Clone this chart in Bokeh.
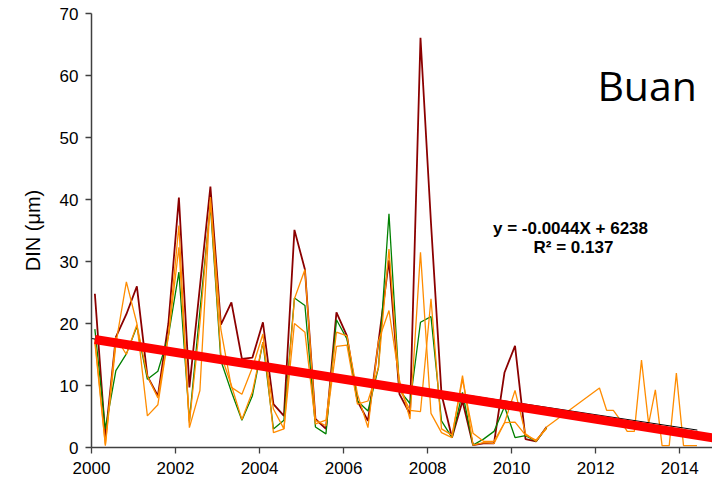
from bokeh.plotting import figure
from bokeh.models import Range1d, FixedTicker, Label
from bokeh.embed import file_html
from bokeh.resources import INLINE

# quarterly sampling times (decimal years)
t_q = [2000.08, 2000.33, 2000.58, 2000.83, 2001.08, 2001.33, 2001.58, 2001.83,
       2002.08, 2002.33, 2002.58, 2002.83, 2003.08, 2003.33, 2003.58, 2003.83,
       2004.08, 2004.33, 2004.58, 2004.83, 2005.08, 2005.33, 2005.58, 2005.83,
       2006.08, 2006.33, 2006.58, 2006.83, 2007.08, 2007.33, 2007.58, 2007.83,
       2008.08, 2008.33, 2008.58, 2008.83, 2009.08, 2009.33, 2009.58, 2009.83,
       2010.08, 2010.33, 2010.58, 2010.83]

din_maroon = [24.8, 1.6, 17.8, 21.5, 26.0, 11.5, 8.3, 20.0,
              40.3, 9.7, 25.9, 42.1, 19.8, 23.4, 14.3, 14.5,
              20.2, 7.0, 5.1, 35.1, 28.7, 4.6, 3.0, 21.8,
              18.0, 7.5, 4.3, 17.0, 30.2, 8.6, 5.4, 66.1,
              36.2, 8.6, 1.6, 7.5, 0.4, 0.65, 0.65, 12.1,
              16.4, 1.35, 0.97, 3.3]

din_green = [19.1, 3.0, 12.4, 15.1, 19.5, 11.0, 12.3, 18.0,
             28.3, 4.3, 22.0, 39.0, 14.0, 9.0, 4.4, 8.35,
             17.0, 3.0, 4.4, 24.1, 22.9, 3.3, 2.2, 20.6,
             17.5, 7.5, 5.9, 12.9, 37.7, 9.2, 7.1, 20.2,
             21.1, 4.3, 1.6, 8.9, 0.4, 1.35, 2.6, 6.6,
             1.6, 1.9, 1.0, 3.2]

din_orange2 = [17.5, 0.5, 17.8, 15.0, 19.8, 11.5, 8.0, 18.0,
               32.3, 4.0, 20.0, 39.5, 15.0, 10.0, 4.5, 9.0,
               17.0, 6.2, 3.0, 24.0, 28.7, 4.4, 3.5, 16.3,
               16.5, 7.0, 7.5, 12.9, 32.0, 9.5, 6.0, 5.8,
               24.0, 3.0, 2.0, 11.0, 2.3, 1.0, 1.0, 4.0,
               4.1, 2.0, 1.2, 3.0]

# orange series that continues to 2014
t_orange1 = t_q + [2012.09, 2012.26, 2012.42, 2012.58, 2012.75, 2012.92,
                   2013.09, 2013.26, 2013.42, 2013.58, 2013.75, 2013.92,
                   2014.09, 2014.25, 2014.41]
din_orange1 = [17.0, 0.3, 16.7, 26.7, 20.0, 5.1, 6.9, 18.0,
               35.8, 3.2, 9.2, 40.4, 19.0, 9.7, 8.6, 12.9,
               18.3, 2.4, 3.0, 20.0, 18.6, 3.8, 4.4, 18.6,
               18.0, 8.6, 3.2, 17.2, 22.1, 10.8, 4.6, 31.5,
               5.5, 2.4, 1.6, 11.6, 0.4, 0.8, 0.65, 4.0,
               9.2, 2.2, 1.0, 3.3,
               9.6, 6.0, 6.0, 4.5, 2.6, 2.6,
               14.1, 3.8, 9.3, 0.3, 0.3, 12.0,
               0.3, 0.3, 0.3]

# regression lines
fit_x = [1999.93, 2014.42]
fit_y = [17.65, 2.81]
trend_x = [2000.08, 2015.0]
trend_y = [17.41, 1.33]

x_ticks = [2000, 2002, 2004, 2006, 2008, 2010, 2012, 2014]
y_ticks = [0, 10, 20, 30, 40, 50, 60, 70]

FONT = "Liberation Sans"

p = figure(width=712, height=482, output_backend="svg", toolbar_location=None,
           x_range=Range1d(2000, 2014.78), y_range=Range1d(0, 70),
           min_border_left=91, min_border_right=0, min_border_top=13,
           min_border_bottom=35)
p.outline_line_color = None
p.xgrid.visible = False
p.ygrid.visible = False
p.background_fill_color = "white"
p.border_fill_color = "white"

p.line(t_q, din_maroon, line_color="#8B0000", line_width=1.8)
p.line(t_q, din_green, line_color="#008000", line_width=1.3)
p.line(t_q, din_orange2, line_color="#FF8C00", line_width=1.3)
p.line(t_orange1, din_orange1, line_color="#FF8C00", line_width=1.3)
p.line(fit_x, fit_y, line_color="black", line_width=1)
p.line(trend_x, trend_y, line_color="#FF0000", line_width=9)

for ax in (p.xaxis[0], p.yaxis[0]):
    ax.axis_line_color = "#404040"
    ax.axis_line_width = 1.5
    ax.major_tick_line_color = "#404040"
    ax.major_tick_line_width = 1.3
    ax.major_tick_out = 6
    ax.major_tick_in = 0
    ax.minor_tick_line_color = None
    ax.major_label_text_font = FONT
    ax.major_label_text_font_size = "17px"
    ax.major_label_text_color = "black"

p.xaxis.ticker = FixedTicker(ticks=x_ticks)
p.yaxis.ticker = FixedTicker(ticks=y_ticks)
p.xaxis.major_label_standoff = 8
p.yaxis.major_label_standoff = 7
p.yaxis.axis_label = "DIN (\u03bcm)"
p.yaxis.axis_label_text_font = FONT
p.yaxis.axis_label_text_font_size = "20px"
p.yaxis.axis_label_text_font_style = "normal"
p.yaxis.axis_label_text_color = "black"
p.yaxis.axis_label_standoff = 13

p.add_layout(Label(x=2012.04, y=58.4, text="Buan", text_font="Open Sans",
                   text_font_size="41px", text_color="black",
                   text_align="left", text_baseline="alphabetic"))
p.add_layout(Label(x=2011.40, y=35.4, text="y = -0.0044X + 6238",
                   text_font=FONT, text_font_size="17px",
                   text_font_style="bold", text_color="black",
                   text_align="center", text_baseline="alphabetic"))
p.add_layout(Label(x=2011.47, y=32.3, text="R\u00b2 = 0.137",
                   text_font=FONT, text_font_size="17px",
                   text_font_style="bold", text_color="black",
                   text_align="center", text_baseline="alphabetic"))

open("out.html", "w").write(file_html(p, INLINE))
